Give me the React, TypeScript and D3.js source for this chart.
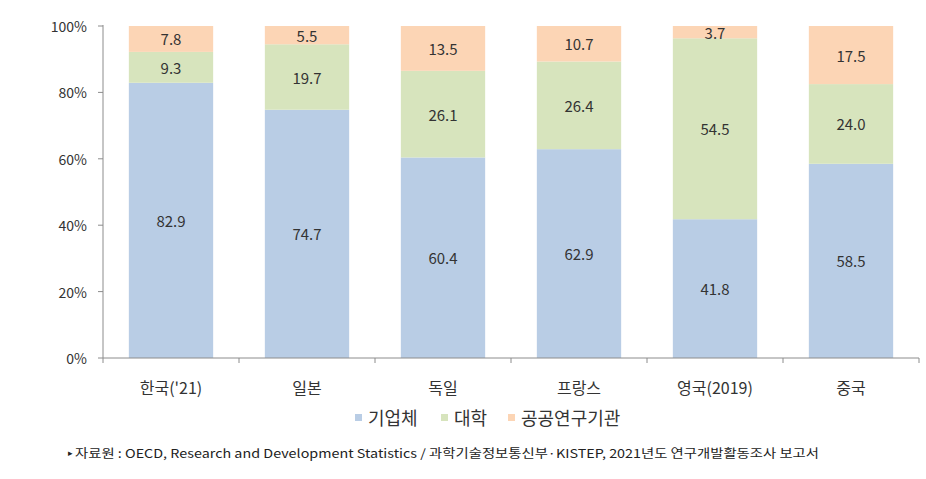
import React from "react";
import * as d3 from "d3";

const categories = ["한국('21)", "일본", "독일", "프랑스", "영국(2019)", "중국"];
const seriesNames = ["기업체", "대학", "공공연구기관"];
const business = [82.9, 74.7, 60.4, 62.9, 41.8, 58.5];
const university = [9.3, 19.7, 26.1, 26.4, 54.5, 24.0];
const publicInst = [7.8, 5.5, 13.5, 10.7, 3.7, 17.5];
const yTicks = [0, 20, 40, 60, 80, 100];
const colors = ["#b9cde5", "#d7e4bd", "#fcd5b5"];
const sourceText =
  "자료원 : OECD, Research and Development Statistics / 과학기술정보통신부·KISTEP, 2021년도 연구개발활동조사 보고서";

const W = 926;
const H = 479;
const left = 103;
const right = 919;
const top = 26;
const bottom = 358;

export default function App() {
  const x = d3.scaleBand<string>().domain(categories).range([left, right]).paddingInner(0.38).paddingOuter(0.19);
  const y = d3.scaleLinear().domain([0, 100]).range([bottom, top]);
  const rows = categories.map((c, i) => {
    const vals = [business[i], university[i], publicInst[i]];
    const sum = d3.sum(vals);
    const norm = vals.map((v) => (v / sum) * 100);
    return { c, vals, norm };
  });
  const stack = d3.stack<any>().keys(["0", "1", "2"]).value((d: any, k: string) => d.norm[+k]);
  const series = stack(rows as any);
  const step = x.step();
  const font = "'Noto Sans CJK KR', 'Noto Sans', sans-serif";

  const legendItems = [
    { name: seriesNames[0], x: 355 },
    { name: seriesNames[1], x: 441 },
    { name: seriesNames[2], x: 508 },
  ];

  return (
    <svg width={W} height={H} style={{ position: "absolute", left: 0, top: 0, background: "#fff" }} fontFamily={font}>
      {series.map((s, si) =>
        s.map((d, i) => (
          <rect
            key={si + "-" + i}
            x={x(categories[i])}
            y={y(d[1])}
            width={x.bandwidth()}
            height={y(d[0]) - y(d[1])}
            fill={colors[si]}
          />
        ))
      )}
      {series.map((s, si) =>
        s.map((d, i) => (
          <text
            key={"l" + si + "-" + i}
            x={(x(categories[i]) as number) + x.bandwidth() / 2}
            y={(y(d[0]) + y(d[1])) / 2}
            textAnchor="middle"
            dominantBaseline="central"
            fontSize={15}
            fill="#333"
          >
            {rows[i].vals[si].toFixed(1)}
          </text>
        ))
      )}
      {/* y axis */}
      <line x1={left} x2={left} y1={top - 1} y2={bottom} stroke="#8c8c8c" strokeWidth={1} />
      {yTicks.map((t) => (
        <g key={t}>
          <line x1={left - 5} x2={left} y1={y(t)} y2={y(t)} stroke="#8c8c8c" />
          <text x={87} y={y(t)} textAnchor="end" dominantBaseline="central" fontSize={14} fill="#333">
            {t}%
          </text>
        </g>
      ))}
      {/* x axis */}
      <line x1={left} x2={right} y1={bottom} y2={bottom} stroke="#8c8c8c" />
      {d3.range(categories.length + 1).map((i) => (
        <line key={i} x1={left + i * step} x2={left + i * step} y1={bottom} y2={bottom + 5} stroke="#8c8c8c" />
      ))}
      {categories.map((c) => (
        <text
          key={c}
          x={(x(c) as number) + x.bandwidth() / 2}
          y={387}
          textAnchor="middle"
          dominantBaseline="central"
          fontSize={16}
          fill="#333"
        >
          {c}
        </text>
      ))}
      {/* legend */}
      {legendItems.map((l, i) => (
        <g key={l.name}>
          <rect x={l.x} y={414} width={7} height={7} fill={colors[i]} />
          <text x={l.x + 13} y={417} dominantBaseline="central" fontSize={18} fill="#333">
            {l.name}
          </text>
        </g>
      ))}
      {/* source */}
      <text x={68} y={452} dominantBaseline="central" fontSize={12} fill="#222" fontFamily={font}>
        <tspan fontSize={9}>▸</tspan>
        <tspan dx={2} textLength={744} lengthAdjust="spacingAndGlyphs">{sourceText}</tspan>
      </text>
    </svg>
  );
}
